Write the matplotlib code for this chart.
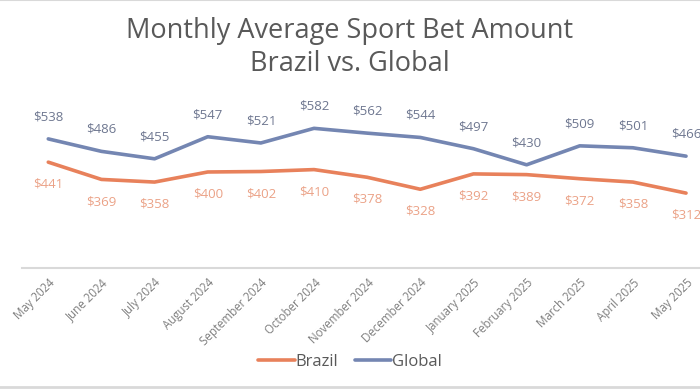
import matplotlib
matplotlib.use("Agg")
import matplotlib.pyplot as plt
from matplotlib.lines import Line2D

months = ["May 2024", "June 2024", "July 2024", "August 2024", "September 2024",
          "October 2024", "November 2024", "December 2024", "January 2025",
          "February 2025", "March 2025", "April 2025", "May 2025"]
brazil = [441, 369, 358, 400, 402, 410, 378, 328, 392, 389, 372, 358, 312]
global_ = [538, 486, 455, 547, 521, 582, 562, 544, 497, 430, 509, 501, 466]

plt.rcParams['font.family'] = ['Open Sans', 'DejaVu Sans']

c_brazil = '#E8815B'
c_global = '#7486B2'
c_text = '#595959'

fig = plt.figure(figsize=(7, 3.9), dpi=100)
ax = fig.add_axes([0.031, 0.313, 0.987, 0.492])

x = list(range(len(months)))
ax.plot(x, brazil, color=c_brazil, lw=2.6, solid_capstyle='round', label='Brazil')
ax.plot(x, global_, color=c_global, lw=2.6, solid_capstyle='round', label='Global')

for i in x:
    ax.annotate(f"${global_[i]}", (i, global_[i]), xytext=(0, 16), textcoords='offset points',
                ha='center', va='center', fontsize=9.5, color='#6E7790')
    ax.annotate(f"${brazil[i]}", (i, brazil[i]), xytext=(0, -16), textcoords='offset points',
                ha='center', va='center', fontsize=9.5, color='#EBA287')

ax.set_xlim(-0.5, len(months) - 0.5)
ax.set_ylim(0, 800)
ax.set_yticks([])
ax.set_xticks(x)
ax.set_xticklabels(months, rotation=45, ha='right', rotation_mode='anchor',
                   fontsize=8.3, color='#7F7F7F')
ax.tick_params(axis='x', length=0, pad=6)
for s in ['top', 'right', 'left']:
    ax.spines[s].set_visible(False)
ax.spines['bottom'].set_color('#D9D9D9')
ax.spines['bottom'].set_linewidth(1.5)

fig.text(0.5, 0.92, "Monthly Average Sport Bet Amount", ha='center', va='center',
         fontsize=19.5, color=c_text)
fig.text(0.5, 0.835, "Brazil vs. Global", ha='center', va='center',
         fontsize=19.5, color=c_text)

fig.legend(loc='center', bbox_to_anchor=(0.5, 0.072), ncol=2, frameon=False,
           fontsize=12, handlelength=2.2, handletextpad=0.05, columnspacing=1.0,
           labelcolor=c_text)

# faint frame lines at the top and bottom of the chart image
fig.add_artist(Line2D([0, 1], [0.999, 0.999], color='#D9D9D9', lw=1.5, transform=fig.transFigure))
fig.add_artist(Line2D([0, 1], [0.007, 0.007], color='#D9D9D9', lw=2, transform=fig.transFigure))

fig.savefig('out.png', dpi=100)
